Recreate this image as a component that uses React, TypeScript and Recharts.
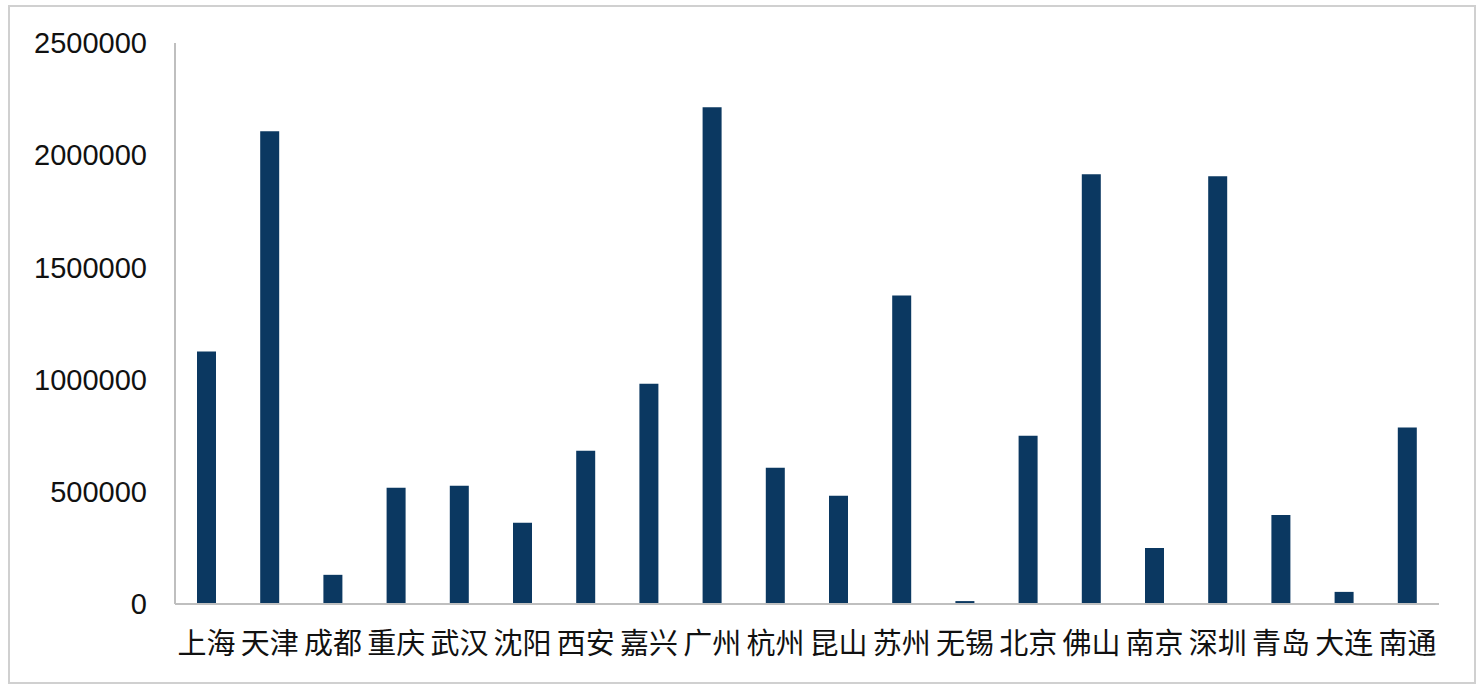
import { BarChart, Bar, XAxis, YAxis } from 'recharts'

const cities = ['上海', '天津', '成都', '重庆', '武汉', '沈阳', '西安', '嘉兴', '广州', '杭州', '昆山', '苏州', '无锡', '北京', '佛山', '南京', '深圳', '青岛', '大连', '南通']
const values = [1125000, 2107000, 130000, 518000, 527000, 362000, 683000, 982000, 2214000, 607000, 482000, 1375000, 13000, 750000, 1915000, 250000, 1906000, 397000, 54000, 786000]
const yTicks = [0, 500000, 1000000, 1500000, 2000000, 2500000]

const data = cities.map((city, i) => ({ city, value: values[i] }))

const font = '"Liberation Sans", Arial, "Noto Sans CJK SC", sans-serif'

export default function App() {
  return (
    <div style={{ position: 'fixed', left: 0, top: 0, width: 1482, height: 692, background: '#fff', fontFamily: font }}>
      <BarChart
        width={1482}
        height={692}
        data={data}
        margin={{ top: 43, right: 43, bottom: 0, left: 0 }}
        barSize={19}
        style={{ position: 'absolute', left: 0, top: 0 }}
      >
        <YAxis
          width={175}
          domain={[0, 2500000]}
          ticks={yTicks}
          interval={0}
          tickSize={0}
          tickMargin={28}
          axisLine={{ stroke: '#bfbfbf', strokeWidth: 2 }}
          tickLine={false}
          tick={{ fill: '#111', fontSize: 29, fontFamily: font }}
        />
        <XAxis
          dataKey="city"
          height={88}
          interval={0}
          tickSize={0}
          tickMargin={29}
          axisLine={{ stroke: '#bfbfbf', strokeWidth: 2 }}
          tickLine={false}
          tick={{ fill: '#111', fontSize: 29, fontFamily: font }}
        />
        <Bar dataKey="value" fill="#0b3861" isAnimationActive={false} />
      </BarChart>
      {/* outer frame */}
      <svg width={1482} height={692} style={{ position: 'absolute', left: 0, top: 0, pointerEvents: 'none' }}>
        <rect x={9} y={6} width={1466} height={677} fill="none" stroke="#d0d0d0" strokeWidth={2} />
      </svg>
    </div>
  )
}
